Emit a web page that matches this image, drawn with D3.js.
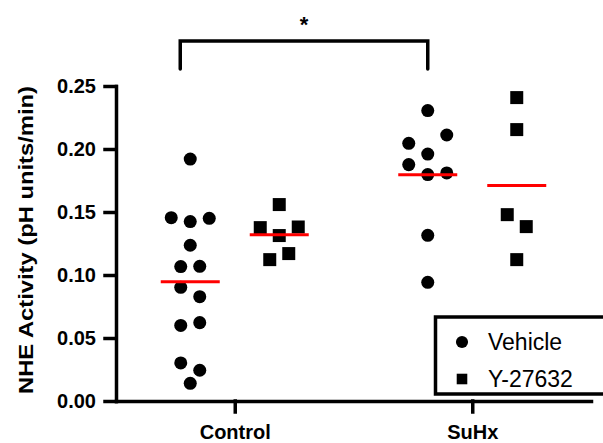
<!DOCTYPE html>
<html lang="en">
  <head>
    <title>NHE Activity</title>
    <meta charset="utf-8">
    <style>
      body { margin: 0; background: #ffffff; }
      .tick_lbl { font-family: "Liberation Sans", Arial, sans-serif; font-size: 20px; font-weight: bold; fill: #000; }
      .leg_lbl { font-family: "Liberation Sans", Arial, sans-serif; font-size: 23px; fill: #000; }
    </style>
    <script src="https://cdn.jsdelivr.net/npm/d3@7"></script>
  </head>
  <body>
    <div id="container"></div>
    <script type="text/javascript">
      //-------------------------DATA-------------------------|
      var groups = ["Control", "SuHx"];
      var treatments = ["Vehicle", "Y-27632"];
      // values listed row by row, left to right inside a row
      var controlVehicle = [0.192, 0.1455, 0.1424, 0.145, 0.1236, 0.1067, 0.1069, 0.0902, 0.0828, 0.060, 0.0622, 0.0302, 0.0244, 0.014];
      var controlY27632 = [0.1559, 0.1376, 0.1313, 0.1381, 0.1122, 0.117];
      var suhxVehicle = [0.2305, 0.2045, 0.196, 0.2111, 0.1876, 0.1797, 0.181, 0.1315, 0.0942];
      var suhxY27632 = [0.2408, 0.2154, 0.1479, 0.1384, 0.1122];
      var yTicks = [0, 0.05, 0.10, 0.15, 0.20, 0.25];
      var sigLabel = "*";

      var series = [
        {group: "Control", treat: "Vehicle", values: controlVehicle},
        {group: "Control", treat: "Y-27632", values: controlY27632},
        {group: "SuHx", treat: "Vehicle", values: suhxVehicle},
        {group: "SuHx", treat: "Y-27632", values: suhxY27632}
      ];

      var width = 603;
      var height = 443;
      var font = '"Liberation Sans", Arial, sans-serif';

      var svg = d3.select("#container").append("svg")
                  .attr("width", width)
                  .attr("height", height);

      //-------------------------SCALES-------------------------|
      var x = d3.scalePoint().domain(groups).range([116, 591]).padding(0.5);
      var xSub = d3.scalePoint().domain(treatments).range([-44.5, 44.5]);
      var y = d3.scaleLinear().domain([0, 0.25]).range([401, 86]);

      var symFor = {
        "Vehicle": d3.symbol().type(d3.symbolCircle).size(133),
        "Y-27632": d3.symbol().type(d3.symbolSquare).size(169)
      };

      //-------------------------AXES-------------------------|
      var yAxis = svg.append("g")
                     .attr("transform", "translate(116,0)")
                     .call(d3.axisLeft(y).tickValues(yTicks).tickFormat(d3.format(".2f"))
                             .tickSize(11).tickSizeOuter(0).tickPadding(9));

      var xAxis = svg.append("g")
                     .attr("transform", "translate(0,401)")
                     .call(d3.axisBottom(x).tickSize(11).tickSizeOuter(0).tickPadding(13));

      svg.selectAll(".domain, .tick line")
         .attr("stroke", "#000")
         .attr("stroke-width", 3.5)
         .attr("stroke-linecap", "square");
      yAxis.selectAll("text").attr("class", "tick_lbl");
      xAxis.selectAll("text").attr("class", "tick_lbl");

      svg.append("text")
         .text("NHE Activity (pH units/min)")
         .attr("transform", "translate(" + 33 + "," + 240 + ") rotate(-90)")
         .attr("text-anchor", "middle")
         .attr("textLength", 308)
         .attr("lengthAdjust", "spacingAndGlyphs")
         .attr("font-family", font)
         .attr("font-size", "21px")
         .attr("font-weight", "bold");

      //-------------------------POINTS-------------------------|
      // simple row beeswarm: a row collects values close to its first value
      function layout(values, tol, step) {
        var rows = [];
        values.forEach(function(v) {
          var last = rows[rows.length - 1];
          if (last && Math.abs(last[0] - v) <= tol) last.push(v);
          else rows.push([v]);
        });
        var out = [];
        rows.forEach(function(r) {
          r.forEach(function(v, j) {
            out.push({v: v, dx: (j - (r.length - 1) / 2) * step});
          });
        });
        return out;
      }

      series.forEach(function(s) {
        var cx = x(s.group) + xSub(s.treat);
        svg.append("g").selectAll("path")
           .data(layout(s.values, 0.0155, 19))
           .enter().append("path")
           .attr("d", symFor[s.treat])
           .attr("fill", "#000")
           .attr("transform", function(d) { return "translate(" + (cx + d.dx) + "," + y(d.v) + ")"; });

        var m = d3.mean(s.values);
        svg.append("line")
           .attr("x1", cx - 29.5).attr("x2", cx + 29.5)
           .attr("y1", y(m)).attr("y2", y(m))
           .attr("stroke", "#ff0000")
           .attr("stroke-width", 3);
      });

      //-------------------------SIGNIFICANCE BRACKET-------------------------|
      var bx1 = x("Control") + xSub("Vehicle") - 10;
      var bx2 = x("SuHx") + xSub("Vehicle");
      svg.append("path")
         .attr("d", "M" + bx1 + ",69V41H" + bx2 + "V69")
         .attr("fill", "none")
         .attr("stroke", "#000")
         .attr("stroke-width", 3.5)
         .attr("stroke-linecap", "round");

      svg.append("text")
         .text(sigLabel)
         .attr("x", (bx1 + bx2) / 2)
         .attr("y", 32)
         .attr("text-anchor", "middle")
         .attr("font-family", font)
         .attr("font-weight", "bold")
         .attr("font-size", "22px");

      //-------------------------LEGEND-------------------------|
      svg.append("rect")
         .attr("x", 435.5)
         .attr("y", 317)
         .attr("width", 220)
         .attr("height", 77)
         .attr("fill", "#fff")
         .attr("stroke", "#000")
         .attr("stroke-width", 3.5);

      var legSym = {
        "Vehicle": d3.symbol().type(d3.symbolCircle).size(115),
        "Y-27632": d3.symbol().type(d3.symbolSquare).size(112)
      };
      treatments.forEach(function(t, i) {
        var ly = 342 + i * 37;
        svg.append("path")
           .attr("d", legSym[t])
           .attr("fill", "#000")
           .attr("transform", "translate(462," + ly + ")");
        svg.append("text")
           .text(t)
           .attr("x", 488)
           .attr("y", ly + 8)
           .attr("class", "leg_lbl");
      });
    </script>
  </body>
</html>
